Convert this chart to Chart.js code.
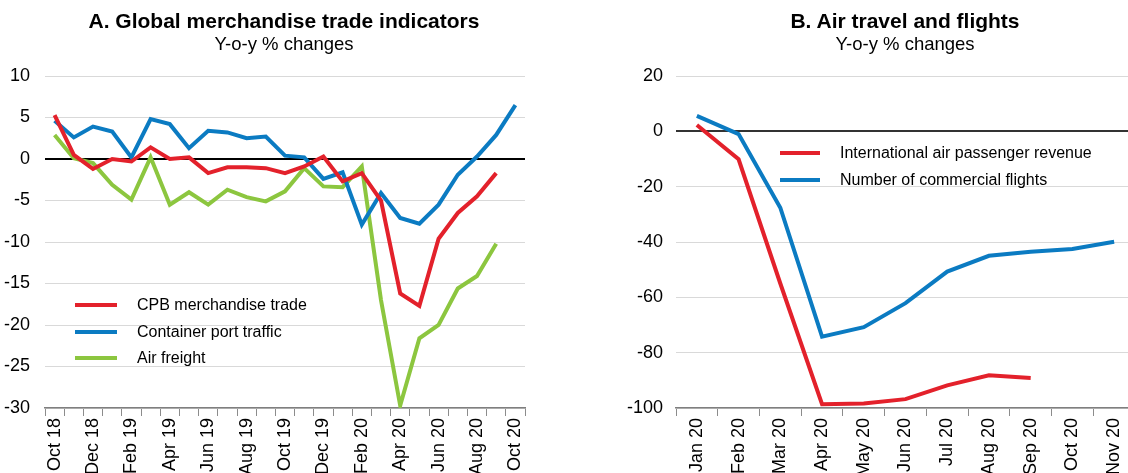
<!DOCTYPE html>
<html>
<head>
<meta charset="utf-8">
<script src="https://cdn.jsdelivr.net/npm/chart.js@4.4.0/dist/chart.umd.min.js"></script>
<style>
  html, body { margin: 0; padding: 0; background: #fff; width: 1128px; height: 473px; overflow: hidden; }
  body { position: relative; font-family: 'Liberation Sans', Arial, sans-serif; color: #000; }
  .panel { position: absolute; top: 0; height: 473px; }
  .panel canvas { position: absolute; left: 0; top: 0; }
  .title { position: absolute; top: 9px; font-weight: bold; font-size: 21px; line-height: 24px; white-space: nowrap; transform: translateX(-50%); }
  .subtitle { position: absolute; top: 33px; font-size: 18.5px; line-height: 22px; white-space: nowrap; transform: translateX(-50%); }
  .legend { position: absolute; font-size: 16px; }
  .legend div { display: flex; align-items: center; height: 26.5px; white-space: nowrap; }
  .legend span.swatch { display: inline-block; height: 4px; margin-right: 20px; }
</style>
</head>
<body>

<div class="panel" id="panelA" style="left:0; width:545px;">
  <canvas id="chartA" width="545" height="473"></canvas>
  <div class="title" style="left:284px;">A. Global merchandise trade indicators</div>
  <div class="subtitle" style="left:284px;">Y-o-y % changes</div>
  <div class="legend" id="legendA" style="left:75px; top:292px;"></div>
</div>

<div class="panel" id="panelB" style="left:600px; width:560px;">
  <canvas id="chartB" width="560" height="473"></canvas>
  <div class="title" style="left:305px;">B. Air travel and flights</div>
  <div class="subtitle" style="left:305px;">Y-o-y % changes</div>
  <div class="legend" id="legendB" style="left:180px; top:140px;"></div>
</div>

<script>
/* ================= DATA ================= */
const tradeMonths = ['Oct 18', 'Nov 18', 'Dec 18', 'Jan 19', 'Feb 19', 'Mar 19', 'Apr 19', 'May 19',
    'Jun 19', 'Jul 19', 'Aug 19', 'Sep 19', 'Oct 19', 'Nov 19', 'Dec 19', 'Jan 20', 'Feb 20',
    'Mar 20', 'Apr 20', 'May 20', 'Jun 20', 'Jul 20', 'Aug 20', 'Sep 20', 'Oct 20'];
const cpbTrade = [5.3, 0.5, -1.2, 0.0, -0.3, 1.4, 0.0, 0.2, -1.7, -1.0, -1.0, -1.1, -1.7,
    -0.9, 0.3, -2.7, -1.7, -5.0, -16.2, -17.7, -9.6, -6.5, -4.5, -1.7, null];
const portTraffic = [4.6, 2.6, 3.9, 3.3, 0.2, 4.8, 4.2, 1.3, 3.4, 3.2, 2.5, 2.7, 0.4,
    0.2, -2.4, -1.6, -7.9, -4.1, -7.1, -7.8, -5.5, -1.9, 0.3, 2.9, 6.5];
const airFreight = [2.9, 0.1, -0.5, -3.1, -4.9, 0.2, -5.5, -4.0, -5.5, -3.7, -4.6, -5.1, -3.9,
    -1.1, -3.3, -3.4, -0.9, -17.0, -29.7, -21.6, -20.0, -15.6, -14.1, -10.2, null];
const tradeTicks = { min: -30, max: 10, step: 5 };

const flightMonths = ['Jan 20', 'Feb 20', 'Mar 20', 'Apr 20', 'May 20', 'Jun 20',
    'Jul 20', 'Aug 20', 'Sep 20', 'Oct 20', 'Nov 20'];
const passengerRevenue = [2.3, -10.1, -55.0, -98.6, -98.4, -96.8, -91.8, -88.2, -89.2, null, null];
const commercialFlights = [5.6, -1.0, -27.6, -74.2, -70.8, -62.1, -50.7, -45.0, -43.5, -42.5, -39.9];
const flightTicks = { min: -100, max: 20, step: 20 };

/* ================= STYLE ================= */
const RED = '#e3212b';
const BLUE = '#0b7bc2';
const GREEN = '#8cc63f';
const GRID = '#d9d9d9';

Chart.defaults.font.family = "'Liberation Sans', Arial, sans-serif";
Chart.defaults.font.size = 18;
Chart.defaults.color = '#000';

function line(label, data, color) {
    return {
        label, data,
        borderColor: color,
        backgroundColor: color,
        borderWidth: 4,
        pointRadius: 0,
        tension: 0,
        spanGaps: false
    };
}

function buildChart(canvasId, labels, datasets, ticks, opts) {
    return new Chart(document.getElementById(canvasId), {
        type: 'line',
        data: { labels, datasets },
        options: {
            responsive: false,
            animation: false,
            devicePixelRatio: 1,
            layout: { padding: { left: 0, right: opts.padRight, top: 76, bottom: 0 } },
            plugins: { legend: { display: false }, tooltip: { enabled: false } },
            scales: {
                x: {
                    type: 'category',
                    offset: true,
                    grid: {
                        offset: true,
                        drawOnChartArea: false,
                        drawTicks: true,
                        tickLength: 8,
                        color: '#8c8c8c'
                    },
                    border: { display: true, color: '#7f7f7f', width: 1.5 },
                    ticks: {
                        autoSkip: false,
                        minRotation: 90,
                        maxRotation: 90,
                        padding: 2,
                        callback: (v, i) => (i % opts.labelEvery === 0 ? labels[i] : '')
                    },
                    afterFit: scale => { scale.height = 65; }
                },
                y: {
                    min: ticks.min,
                    max: ticks.max,
                    ticks: { stepSize: ticks.step, padding: opts.yPad },
                    border: { display: false },
                    grid: {
                        drawTicks: false,
                        color: c => (c.tick && c.tick.value === 0 ? opts.zeroColor : GRID),
                        lineWidth: c => (c.tick && c.tick.value === 0 ? 2 : 1)
                    },
                    afterFit: scale => { scale.width = opts.yWidth; }
                }
            }
        }
    });
}

function buildLegend(id, datasets, lineWidth) {
    const box = document.getElementById(id);
    datasets.forEach(ds => {
        const row = document.createElement('div');
        row.innerHTML = `<span class="swatch" style="width:${lineWidth}px;background:${ds.borderColor}"></span>${ds.label}`;
        box.appendChild(row);
    });
}

/* ================= PANEL A ================= */
const tradeSets = [
    line('CPB merchandise trade', cpbTrade, RED),
    line('Container port traffic', portTraffic, BLUE),
    line('Air freight', airFreight, GREEN)
];
buildChart('chartA', tradeMonths, tradeSets, tradeTicks,
    { padRight: 20, yWidth: 45, yPad: 15, labelEvery: 2, zeroColor: '#000' });
buildLegend('legendA', tradeSets, 42);

/* ================= PANEL B ================= */
const flightSets = [
    line('International air passenger revenue', passengerRevenue, RED),
    line('Number of commercial flights', commercialFlights, BLUE)
];
buildChart('chartB', flightMonths, flightSets, flightTicks,
    { padRight: 25, yWidth: 76, yPad: 13, labelEvery: 1, zeroColor: '#333' });
buildLegend('legendB', flightSets, 40);
</script>
</body>
</html>
